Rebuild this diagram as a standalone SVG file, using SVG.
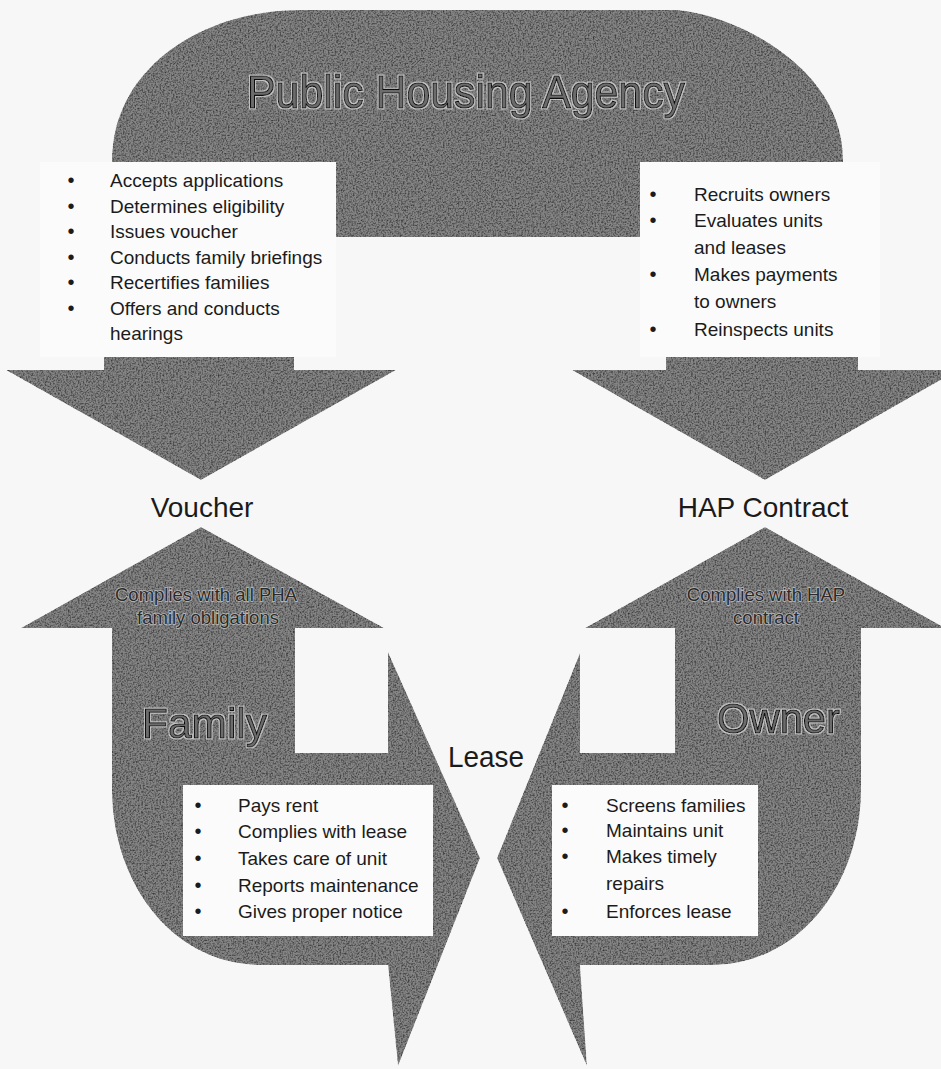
<svg xmlns="http://www.w3.org/2000/svg" width="941" height="1069" viewBox="0 0 941 1069">
<defs>
<filter id="grain" filterUnits="userSpaceOnUse" x="0" y="0" width="941" height="1069" color-interpolation-filters="sRGB">
<feTurbulence type="fractalNoise" baseFrequency="0.6" numOctaves="2" seed="4" result="t"/>
<feColorMatrix in="t" type="matrix" values="1.3 0 0 0 0.22  1.3 0 0 0 0.22  1.3 0 0 0 0.22  0 0 0 0 1" result="g"/>
<feBlend in="SourceGraphic" in2="g" mode="multiply" result="b"/>
<feComposite in="b" in2="SourceGraphic" operator="in"/>
</filter>
<filter id="halo" filterUnits="userSpaceOnUse" x="0" y="0" width="941" height="1069">
<feMorphology in="SourceAlpha" operator="dilate" radius="1.2" result="d"/>
<feFlood flood-color="#e2e2e2" flood-opacity="0.7"/>
<feComposite in2="d" operator="in" result="h"/>
<feMerge><feMergeNode in="h"/><feMergeNode in="SourceGraphic"/></feMerge>
</filter>
<style>
.shape{fill:#858585}
.box{fill:#fbfbfb}
.t{font-family:"Liberation Sans",Arial,sans-serif;font-size:19px;fill:#1b1b1b}
.b{font-family:"Liberation Sans",Arial,sans-serif;font-size:20px;fill:#1b1b1b;text-anchor:middle}
.lbl{font-family:"Liberation Sans",Arial,sans-serif;font-size:28px;fill:#1b1b1b;text-anchor:middle}
.big{font-family:"Liberation Sans",Arial,sans-serif;fill:#6c6c6c;stroke:#111111;stroke-width:1.1px}
.sub{font-family:"Liberation Sans",Arial,sans-serif;font-size:18.5px;fill:#2a2a2a;stroke:#bdbdbd;stroke-width:1.4px;paint-order:stroke;text-anchor:middle}
</style>
</defs>
<rect width="941" height="1069" fill="#f7f7f7"/>

<g id="connectors">
  <g filter="url(#grain)">
    <polygon class="shape" points="6,370 396,370 201,480"/>
    <polygon class="shape" points="572,370 958,370 765,480"/>
    <polygon class="shape" points="21,628 384,628 201,527"/>
    <polygon class="shape" points="585,628 945,628 765,527"/>
    <polygon class="shape" points="388,652 480,858 398,1066 388,965"/>
    <polygon class="shape" points="580,653 497,858 587,1066 580,965"/>
  </g>
  <text class="lbl" x="202" y="517">Voucher</text>
  <text class="lbl" x="763" y="517">HAP Contract</text>
  <text class="lbl" x="448" y="767" style="text-anchor:start;font-size:29px" textLength="76" lengthAdjust="spacingAndGlyphs">Lease</text>
</g>

<g id="pha">
  <g filter="url(#grain)">
    <path class="shape" d="M112,166 L112,160 C112,70 200,10 300,10 L673,10 C720,10 843,60 843,160 L843,166 Z"/>
    <rect class="shape" x="336" y="150" width="304" height="87"/>
    <rect class="shape" x="104" y="340" width="190" height="34"/>
    <rect class="shape" x="666" y="340" width="192" height="34"/>
  </g>
  <rect class="box" x="40" y="162" width="296" height="195"/>
  <rect class="box" x="640" y="162" width="240" height="195"/>
  <text class="big" x="247" y="108" font-size="46" textLength="438" lengthAdjust="spacingAndGlyphs" filter="url(#halo)">Public Housing Agency</text>
  <text class="b" x="71" y="187">•</text>
  <text class="b" x="71" y="212.5">•</text>
  <text class="b" x="71" y="238">•</text>
  <text class="b" x="71" y="263.5">•</text>
  <text class="b" x="71" y="289">•</text>
  <text class="b" x="71" y="314.5">•</text>
  <text class="t" x="110" y="187">Accepts applications</text>
  <text class="t" x="110" y="212.5">Determines eligibility</text>
  <text class="t" x="110" y="238">Issues voucher</text>
  <text class="t" x="110" y="263.5">Conducts family briefings</text>
  <text class="t" x="110" y="289">Recertifies families</text>
  <text class="t" x="110" y="314.5">Offers and conducts</text>
  <text class="t" x="110" y="340">hearings</text>
  <text class="b" x="653" y="201">•</text>
  <text class="b" x="653" y="227">•</text>
  <text class="b" x="653" y="281">•</text>
  <text class="b" x="653" y="336">•</text>
  <text class="t" x="694" y="201">Recruits owners</text>
  <text class="t" x="694" y="227">Evaluates units</text>
  <text class="t" x="694" y="254">and leases</text>
  <text class="t" x="694" y="281">Makes payments</text>
  <text class="t" x="694" y="308">to owners</text>
  <text class="t" x="694" y="336">Reinspects units</text>
</g>

<g id="family">
  <g filter="url(#grain)">
    <path class="shape" d="M112,626 L295,626 L295,753 L390,753 L390,965 L262,965 C170,965 112,880 112,790 Z"/>
  </g>
  <rect class="box" x="183" y="785" width="250" height="151"/>
  <text class="sub" x="206" y="601">Complies with all PHA</text>
  <text class="sub" x="208" y="624">family obligations</text>
  <text class="big" x="142" y="738" font-size="42" textLength="125" lengthAdjust="spacingAndGlyphs" filter="url(#halo)">Family</text>
  <text class="b" x="198" y="812">•</text>
  <text class="b" x="198" y="838">•</text>
  <text class="b" x="198" y="865">•</text>
  <text class="b" x="198" y="892">•</text>
  <text class="b" x="198" y="918">•</text>
  <text class="t" x="238" y="812">Pays rent</text>
  <text class="t" x="238" y="838">Complies with lease</text>
  <text class="t" x="238" y="865">Takes care of unit</text>
  <text class="t" x="238" y="892">Reports maintenance</text>
  <text class="t" x="238" y="918">Gives proper notice</text>
</g>

<g id="owner">
  <g filter="url(#grain)">
    <path class="shape" d="M861,626 L675,626 L675,753 L580,753 L580,965 L711,965 C803,965 861,880 861,790 Z"/>
  </g>
  <rect class="box" x="552" y="785" width="206" height="151"/>
  <text class="sub" x="766" y="601">Complies with HAP</text>
  <text class="sub" x="766" y="624">contract</text>
  <text class="big" x="717" y="733" font-size="42" textLength="123" lengthAdjust="spacingAndGlyphs" filter="url(#halo)">Owner</text>
  <text class="b" x="565" y="812">•</text>
  <text class="b" x="565" y="837">•</text>
  <text class="b" x="565" y="863">•</text>
  <text class="b" x="565" y="918">•</text>
  <text class="t" x="606" y="812">Screens families</text>
  <text class="t" x="606" y="837">Maintains unit</text>
  <text class="t" x="606" y="863">Makes timely</text>
  <text class="t" x="606" y="890">repairs</text>
  <text class="t" x="606" y="918">Enforces lease</text>
</g>
</svg>
